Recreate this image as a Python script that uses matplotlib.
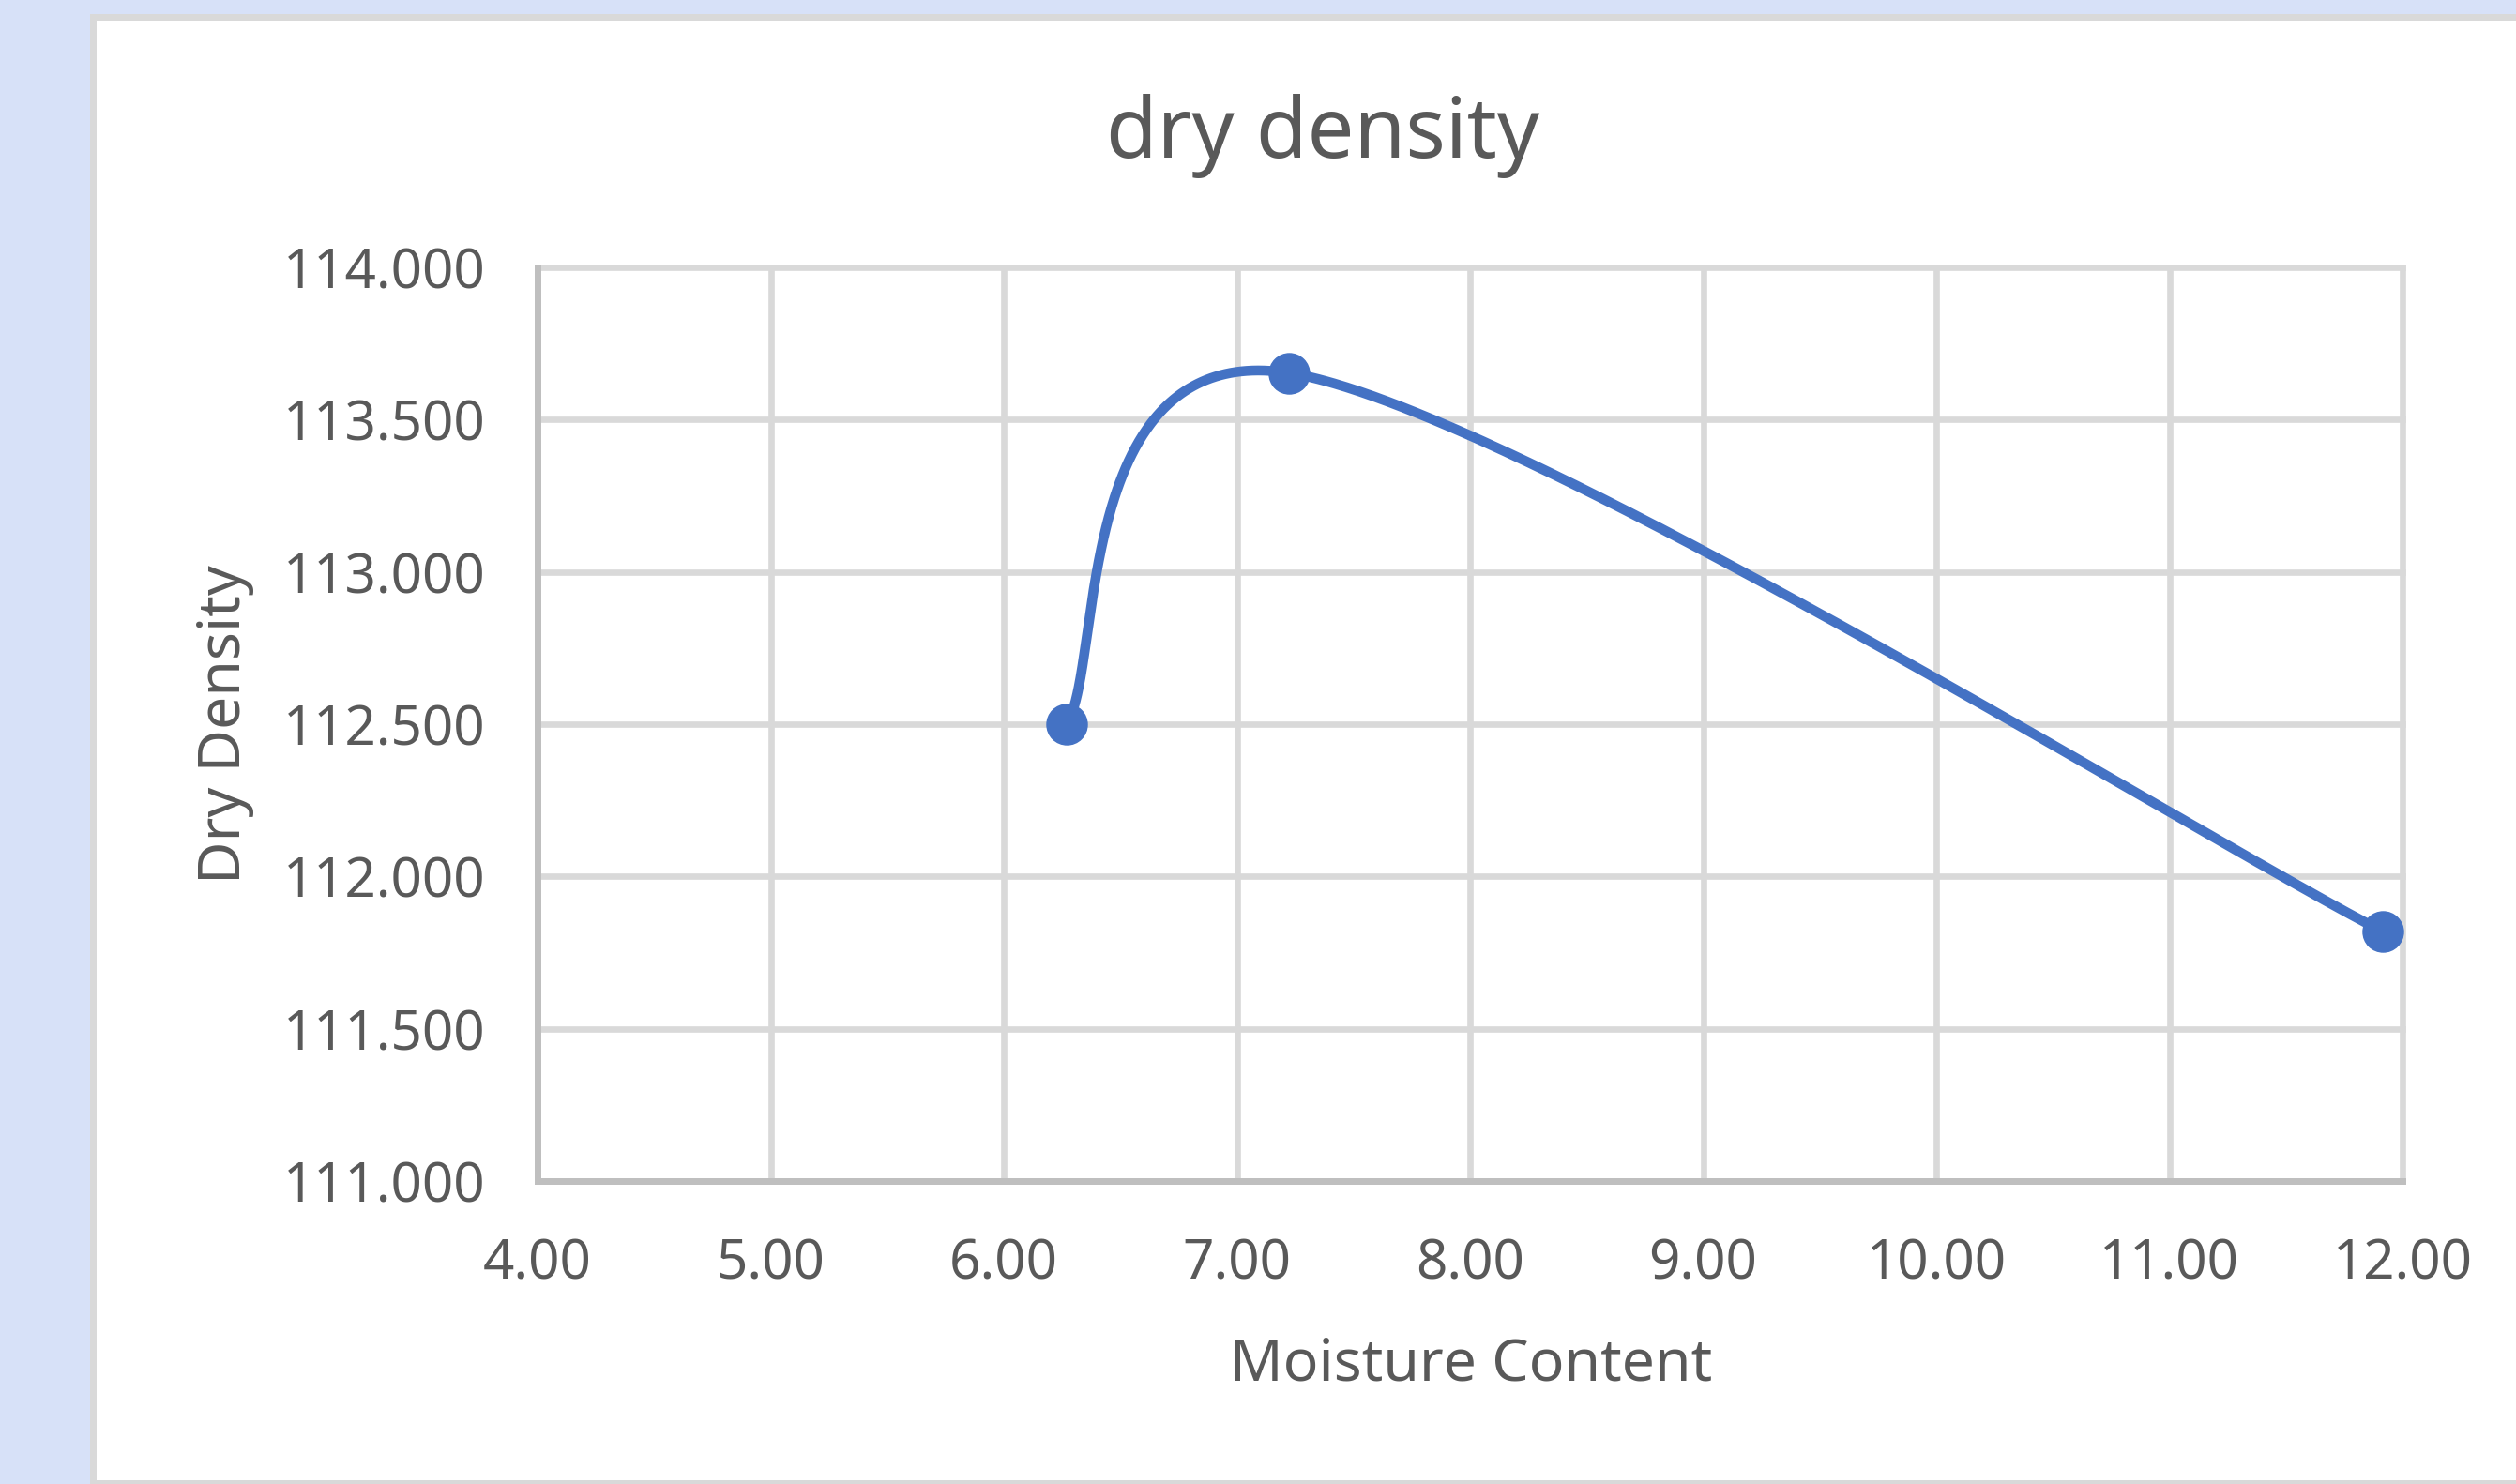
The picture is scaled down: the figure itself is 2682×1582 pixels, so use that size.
import numpy as np
import matplotlib
matplotlib.use("Agg")
import matplotlib.pyplot as plt
from matplotlib.patches import Rectangle

# ---- data ----
moisture = [6.27, 7.225, 11.916]
dry_density = [112.50, 113.653, 111.819]
x_ticks = [4.0, 5.0, 6.0, 7.0, 8.0, 9.0, 10.0, 11.0, 12.0]
y_ticks = [111.0, 111.5, 112.0, 112.5, 113.0, 113.5, 114.0]
title = "dry density"
x_title = "Moisture Content"
y_title = "Dry Density"

W, H = 2682, 1582
DPI = 100
plt.rcParams['font.family'] = ['Noto Sans', 'DejaVu Sans']
TXT = '#595959'
BLUE = '#4472C4'
GRID = '#D9D9D9'

fig = plt.figure(figsize=(W / DPI, H / DPI), dpi=DPI, facecolor='#D7E1F8')

# chart area border and white fill (figure pixel coordinates)
def px_rect(x0, y0, x1, y1, color, z):
    r = Rectangle((x0 / W, 1 - y1 / H), (x1 - x0) / W, (y1 - y0) / H,
                  transform=fig.transFigure, facecolor=color, edgecolor='none', zorder=z)
    fig.patches.append(r)

px_rect(96, 15, W + 10, H + 10, GRID, -3)
px_rect(103, 22, W + 10, 1578, 'white', -2)

# axes in pixels: left 573, right 2561, top 285, bottom 1259
L, R, T, B = 573, 2561, 285, 1259
ax = fig.add_axes([L / W, 1 - B / H, (R - L) / W, (B - T) / H])
ax.set_zorder(1)
ax.set_facecolor('none')
ax.set_xlim(x_ticks[0], x_ticks[-1])
ax.set_ylim(y_ticks[0], y_ticks[-1])
ax.set_xticks(x_ticks)
ax.set_yticks(y_ticks)
ax.set_xticklabels([f"{v:.2f}" for v in x_ticks])
ax.set_yticklabels([f"{v:.3f}" for v in y_ticks])
ax.tick_params(axis='both', length=0, labelsize=42, labelcolor=TXT)
ax.tick_params(axis='x', pad=43)
ax.tick_params(axis='y', pad=40)
ax.grid(True, color=GRID, linewidth=4.8)
ax.set_axisbelow(True)
for ln in ax.get_xgridlines() + ax.get_ygridlines():
    ln.set_clip_on(False)
for s in ['top', 'right']:
    ax.spines[s].set_visible(False)
for s in ['left', 'bottom']:
    ax.spines[s].set_color('#BFBFBF')
    ax.spines[s].set_linewidth(5)
    ax.spines[s].set_zorder(2)

# smoothed line (Excel-like Bezier in display space)
pts = ax.transData.transform(np.column_stack([moisture, dry_density]))
n = len(pts)
ext = np.vstack([pts[0], pts, pts[-1]])
t = np.linspace(0, 1, 200)[:, None]
curve = []
for i in range(n - 1):
    p0, p1, p2, p3 = ext[i], ext[i + 1], ext[i + 2], ext[i + 3]
    c1 = p1 + (p2 - p0) / 6.0
    c2 = p2 - (p3 - p1) / 6.0
    seg = ((1 - t) ** 3) * p1 + 3 * t * (1 - t) ** 2 * c1 + 3 * t ** 2 * (1 - t) * c2 + t ** 3 * p2
    curve.append(seg)
curve = np.vstack(curve)
cdata = ax.transData.inverted().transform(curve)
ax.plot(cdata[:, 0], cdata[:, 1], color=BLUE, linewidth=7.6, solid_capstyle='round', zorder=3, clip_on=False)
ax.plot(moisture, dry_density, 'o', color=BLUE, markersize=31, zorder=4, clip_on=False)

fig.text(1410 / W, 1 - 145 / H, title, ha='center', va='center', fontsize=64, color=TXT)
fig.text(1568 / W, 1 - 1455 / H, x_title, ha='center', va='center', fontsize=45, color=TXT)
fig.text(240 / W, 1 - 772 / H, y_title, ha='center', va='center', rotation=90, fontsize=45, color=TXT)

fig.savefig('out.png', dpi=DPI, facecolor=fig.get_facecolor())
